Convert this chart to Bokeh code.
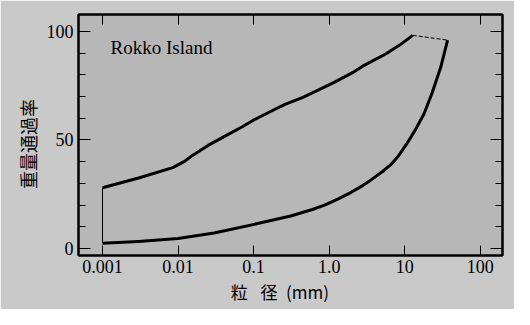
import math
from bokeh.plotting import figure
from bokeh.models import FixedTicker, LogAxis, LinearAxis, Label, Range1d
from bokeh.embed import file_html
from bokeh.resources import INLINE

# data
upper_x = [0.001, 0.003, 0.0085, 0.012, 0.0155, 0.025, 0.043, 0.07, 0.098, 0.178, 0.26,
           0.45, 0.75, 1.2, 2.04, 2.78, 3.4, 5.6, 8.5, 12.8]
upper_y = [28.0, 32.5, 37.3, 40.0, 42.9, 47.5, 52.0, 56.0, 59.0, 63.6, 66.4,
           69.6, 73.3, 76.8, 81.0, 84.0, 85.6, 89.6, 93.6, 98.2]
lower_x = [0.001, 0.003, 0.01, 0.03, 0.113, 0.31, 0.6, 0.87, 1.3, 1.93, 2.78, 3.55,
           5.1, 6.5, 8.0, 9.2, 11.0, 14.0, 18.0, 23.0, 30.0, 37.0]
lower_y = [2.4, 3.3, 4.6, 7.2, 11.5, 15.0, 18.0, 20.0, 22.8, 25.8, 29.0, 31.5,
           35.5, 38.5, 42.0, 45.0, 49.0, 55.0, 62.0, 71.5, 83.5, 96.0]
x_ticks = [0.001, 0.01, 0.1, 1, 10, 100]
x_tick_labels = ["0.001", "0.01", "0.1", "1.0", "10", "100"]
y_major = [0, 50, 100]
y_minor = [0, 10, 20, 30, 40, 50, 60, 70, 80, 90, 100]
title_text = "Rokko Island"
x_label = "粒\u2002\u2005径\u2002(mm)\u3000\u2005"
y_label = "重量通過率\u3000"

SERIF = "Liberation Serif"
CJK = "Noto Sans CJK JP"

p = figure(width=514, height=309, x_axis_type="log",
           x_range=Range1d(10 ** -3.318, 10 ** 2.295), y_range=Range1d(-3.2, 107.8),
           output_backend="svg", toolbar_location=None,
           min_border_left=78, min_border_right=12, min_border_top=14, min_border_bottom=54)
p.background_fill_color = "#b7b7b7"
p.border_fill_color = "#c9c9c9"
p.outline_line_color = "black"
p.outline_line_width = 2
p.xgrid.visible = False
p.ygrid.visible = False

p.line(upper_x, upper_y, line_color="black", line_width=3, line_join="round")
p.line(lower_x, lower_y, line_color="black", line_width=3, line_join="round")
p.line([upper_x[-1], lower_x[-1]], [upper_y[-1], lower_y[-1]], line_color="black",
       line_width=1, line_dash="4 2")
p.line([lower_x[0], upper_x[0]], [lower_y[0], upper_y[0]], line_color="black", line_width=1)

xt = FixedTicker(ticks=x_ticks, minor_ticks=[])
yt = FixedTicker(ticks=y_major, minor_ticks=y_minor)
overrides = {t: l for t, l in zip(x_ticks, x_tick_labels)}

def style_x(ax, labels):
    ax.ticker = xt
    ax.major_tick_in = 10
    ax.major_tick_out = 0
    ax.minor_tick_in = 0
    ax.minor_tick_out = 0
    ax.axis_line_width = 2
    ax.major_tick_line_width = 1
    ax.major_label_overrides = overrides
    ax.major_label_text_font = SERIF
    ax.major_label_standoff = 4
    if labels:
        ax.major_label_text_font_size = "18px"
        ax.major_label_text_color = "black"
    else:
        ax.major_label_text_font_size = "1px"
        ax.major_label_text_color = None

def style_y(ax, labels):
    ax.ticker = yt
    ax.major_tick_in = 12
    ax.major_tick_out = 0
    ax.minor_tick_in = 7
    ax.minor_tick_out = 0
    ax.axis_line_width = 2
    ax.major_tick_line_width = 1
    ax.minor_tick_line_width = 1
    ax.minor_tick_line_color = "black"
    ax.major_label_text_font = SERIF
    ax.major_label_standoff = 5
    if labels:
        ax.major_label_text_font_size = "18px"
        ax.major_label_text_color = "black"
    else:
        ax.major_label_text_font_size = "1px"
        ax.major_label_text_color = None

style_x(p.xaxis[0], True)
style_y(p.yaxis[0], True)
for ax, lab, size in ((p.xaxis[0], x_label, "17px"), (p.yaxis[0], y_label, "18px")):
    ax.axis_label = lab
    ax.axis_label_text_font = CJK
    ax.axis_label_text_font_size = size
    ax.axis_label_text_font_style = "normal"
    ax.axis_label_text_color = "black"
p.xaxis[0].axis_label_standoff = 3
p.yaxis[0].axis_label_standoff = 3

top = LogAxis()
style_x(top, False)
p.add_layout(top, "above")
right = LinearAxis()
style_y(right, False)
p.add_layout(right, "right")

p.add_layout(Label(x=0.00128, y=92.6, text=title_text, text_font=SERIF,
                   text_font_size="19px", text_color="black",
                   text_align="left", text_baseline="middle"))

open("out.html", "w").write(file_html(p, INLINE))
